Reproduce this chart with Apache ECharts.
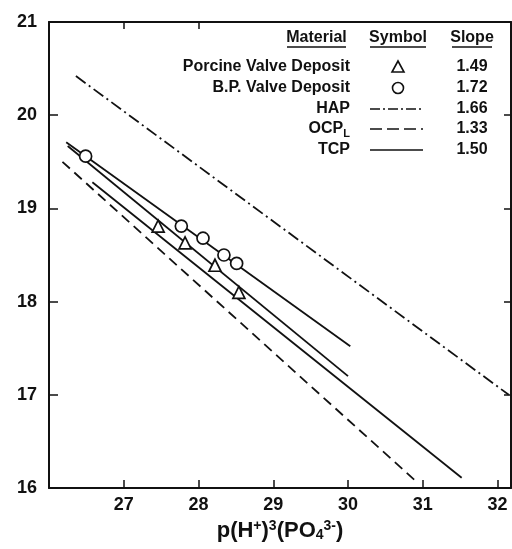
<!DOCTYPE html>
<html>
<head>
<meta charset="utf-8">
<script src="https://cdn.jsdelivr.net/npm/echarts@6/dist/echarts.min.js"></script>
<style>
  html, body { margin: 0; padding: 0; background: #fff; }
  #chart { width: 512px; height: 549px; }
</style>
</head>
<body>
<div id="chart"></div>
<script>
"use strict"
// data
const circleX = [26.49, 27.77, 28.06, 28.34, 28.51];
const circleY = [19.56, 18.81, 18.68, 18.50, 18.41];
const triX = [27.46, 27.82, 28.22, 28.54];
const triY = [18.81, 18.63, 18.39, 18.10];

// fitted lines, [x, y] at each end
const bpLine = [[26.23, 19.71], [30.03, 17.52]];
const porcineLine = [[26.25, 19.67], [30.0, 17.20]];
const tcpLine = [[26.58, 19.28], [31.52, 16.11]];
const ocpLine = [[26.18, 19.50], [30.94, 16.05]];
const hapLine = [[26.36, 20.42], [32.15, 17.0]];

// legend table
const materials = ['Porcine Valve Deposit', 'B.P. Valve Deposit', 'HAP', '{m|OCP}{s|L}', 'TCP'];
const slopes = ['1.49', '1.72', '1.66', '1.33', '1.50'];

const FONT = '"Liberation Sans", Arial, sans-serif';
const INK = '#111';

let chart = echarts.init(document.getElementById('chart'));

function zip(xs, ys) {
    var out = [];
    for (var i = 0; i < xs.length; i++) {
        out.push([xs[i], ys[i]]);
    }
    return out;
}

function lineSeries(data, dash) {
    return {
        type: 'line',
        data: data,
        symbol: 'none',
        silent: true,
        lineStyle: { color: INK, width: 1.8, type: dash || 'solid' },
        z: 2
    };
}

// legend drawn as a small table
const rowY = [67, 88, 109, 129, 150];
var graphics = [];
const heads = [['Material', 287, 346], ['Symbol', 370, 426], ['Slope', 452, 492]];
heads.forEach(function (h) {
    graphics.push({
        type: 'text', x: (h[1] + h[2]) / 2, y: 38,
        style: { text: h[0], font: 'bold 16px ' + FONT, fill: INK, align: 'center', verticalAlign: 'middle' }
    });
    graphics.push({
        type: 'line', shape: { x1: h[1], y1: 47, x2: h[2], y2: 47 },
        style: { stroke: INK, lineWidth: 1.5 }
    });
});
materials.forEach(function (m, i) {
    graphics.push({
        type: 'text', x: 350, y: rowY[i],
        style: {
            text: m, font: 'bold 16px ' + FONT, fill: INK, align: 'right', verticalAlign: 'middle',
            rich: {
                m: { font: 'bold 16px ' + FONT, fill: INK },
                s: { font: 'bold 11px ' + FONT, fill: INK, padding: [10, 0, 0, 0] }
            }
        }
    });
    graphics.push({
        type: 'text', x: 472, y: rowY[i],
        style: { text: slopes[i], font: 'bold 16px ' + FONT, fill: INK, align: 'center', verticalAlign: 'middle' }
    });
});
graphics.push({
    type: 'polygon', shape: { points: [[398, rowY[0] - 6], [392, rowY[0] + 5], [404, rowY[0] + 5]] },
    style: { fill: '#fff', stroke: INK, lineWidth: 1.6 }
});
graphics.push({
    type: 'circle', shape: { cx: 398, cy: rowY[1], r: 5.5 },
    style: { fill: '#fff', stroke: INK, lineWidth: 1.6 }
});
const legendDash = [[10, 3, 2, 3], [12, 5], null];
legendDash.forEach(function (d, k) {
    graphics.push({
        type: 'line', shape: { x1: 370, y1: rowY[k + 2], x2: 423, y2: rowY[k + 2] },
        style: { stroke: INK, lineWidth: 1.6, lineDash: d }
    });
});

var option = {
    backgroundColor: '#fff',
    animation: false,
    textStyle: { fontFamily: FONT },
    grid: { left: 49, right: 1, top: 22, bottom: 61 },
    xAxis: [{
        type: 'value', min: 26, max: 32.18, interval: 1,
        axisLine: { lineStyle: { color: INK, width: 2 } },
        axisTick: { inside: true, length: 8, lineStyle: { color: INK, width: 1.5 } },
        axisLabel: { showMinLabel: false, showMaxLabel: false, margin: 8, color: INK, fontSize: 18, fontWeight: 'bold' },
        splitLine: { show: false },
        name: '{a|p(H}{u|+}{a|)}{u|3}{a|(PO}{d|4}{u|3-}{a|)}',
        nameLocation: 'middle',
        nameGap: 30,
        nameTextStyle: {
            rich: {
                a: { fontSize: 22, fontWeight: 'bold', color: INK, fontFamily: FONT },
                u: { fontSize: 14, fontWeight: 'bold', color: INK, fontFamily: FONT, padding: [0, 0, 10, 0] },
                d: { fontSize: 14, fontWeight: 'bold', color: INK, fontFamily: FONT, padding: [9, 0, 0, 0] }
            }
        }
    }, {
        type: 'value', position: 'top', min: 26, max: 32.18, interval: 1,
        axisLine: { lineStyle: { color: INK, width: 2 } },
        axisTick: { inside: true, length: 7, customValues: [27, 28], lineStyle: { color: INK, width: 1.5 } },
        axisLabel: { show: false },
        splitLine: { show: false }
    }],
    yAxis: [{
        type: 'value', min: 16, max: 21, interval: 1,
        axisLine: { show: true, lineStyle: { color: INK, width: 2 } },
        axisTick: { show: true, inside: true, length: 9, lineStyle: { color: INK, width: 1.5 } },
        axisLabel: { margin: 12, color: INK, fontSize: 18, fontWeight: 'bold' },
        splitLine: { show: false }
    }, {
        type: 'value', position: 'right', min: 16, max: 21, interval: 1,
        axisLine: { show: true, lineStyle: { color: INK, width: 2 } },
        axisTick: { show: true, inside: true, length: 7, lineStyle: { color: INK, width: 1.5 } },
        axisLabel: { show: false },
        splitLine: { show: false }
    }],
    graphic: graphics,
    series: [
        lineSeries(bpLine),
        lineSeries(porcineLine),
        lineSeries(tcpLine),
        lineSeries(ocpLine, [10, 6]),
        lineSeries(hapLine, [12, 4, 2, 4]),
        {
            type: 'scatter', data: zip(triX, triY), symbol: 'triangle', symbolSize: 12,
            itemStyle: { color: '#fff', borderColor: INK, borderWidth: 1.7, opacity: 1 },
            z: 5
        },
        {
            type: 'scatter', data: zip(circleX, circleY), symbol: 'circle', symbolSize: 12,
            itemStyle: { color: '#fff', borderColor: INK, borderWidth: 1.7, opacity: 1 },
            z: 5
        }
    ]
};
chart.setOption(option);
</script>
</body>
</html>
